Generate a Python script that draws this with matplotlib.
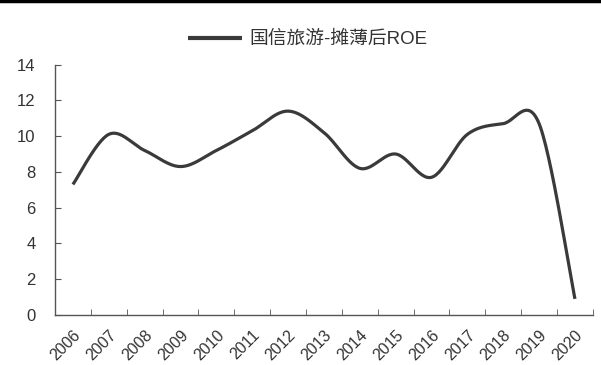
import numpy as np
import matplotlib
matplotlib.use('Agg')
import matplotlib.pyplot as plt
from matplotlib.lines import Line2D

plt.rcParams['font.family'] = ['Liberation Sans', 'Noto Sans CJK SC', 'DejaVu Sans']

years = ['2006', '2007', '2008', '2009', '2010', '2011', '2012', '2013',
         '2014', '2015', '2016', '2017', '2018', '2019', '2020']
roe = [7.3, 10.1, 9.2, 8.3, 9.2, 10.3, 11.4, 10.2, 8.2, 9.0, 7.7, 10.1, 10.7, 10.7, 0.9]
label = '国信旅游-摊薄后ROE'


def smooth(x, y, n=30):
    # catmull-rom like excel smoothed line
    x = np.asarray(x, float)
    y = np.asarray(y, float)
    px = np.concatenate([[x[0]], x, [x[-1]]])
    py = np.concatenate([[y[0]], y, [y[-1]]])
    xs, ys = [], []
    t = np.linspace(0, 1, n)
    for i in range(1, len(px) - 2):
        p0, p1, p2, p3 = [np.array([px[j], py[j]]) for j in (i - 1, i, i + 1, i + 2)]
        c1 = p1 + (p2 - p0) / 6.0
        c2 = p2 - (p3 - p1) / 6.0
        b = ((1 - t) ** 3)[:, None] * p1 + (3 * (1 - t) ** 2 * t)[:, None] * c1 \
            + (3 * (1 - t) * t ** 2)[:, None] * c2 + (t ** 3)[:, None] * p2
        xs.append(b[:, 0])
        ys.append(b[:, 1])
    return np.concatenate(xs), np.concatenate(ys)


fig = plt.figure(figsize=(6.01, 3.65), dpi=100)
ax = fig.add_axes([0.0915, 0.137, 0.895, 0.686])

xi = np.arange(len(years))
sx, sy = smooth(xi, roe)
ax.plot(sx, sy, color='#3a3a3a', lw=2.3, solid_capstyle='butt', label=label)

ax.set_xlim(-0.5, len(years) - 0.5)
ax.set_ylim(0, 14)
ax.set_yticks(np.arange(0, 15, 2))
ax.set_xticks(xi)
ax.set_xticklabels(years, rotation=45, ha='right', rotation_mode='anchor')
ax.set_xticks(np.arange(0.5, len(years), 1), minor=True)
ax.tick_params(axis='x', which='major', length=0, pad=9, labelsize=11.5, labelcolor='#333333')
ax.tick_params(axis='x', which='minor', direction='in', length=4, color='#555555')
ax.tick_params(axis='y', direction='in', length=4, color='#555555', labelsize=12,
               labelcolor='#333333', pad=14)
for s in ('top', 'right'):
    ax.spines[s].set_visible(False)
for s in ('left', 'bottom'):
    ax.spines[s].set_color('#555555')
    ax.spines[s].set_linewidth(1.0)

leg = ax.legend(loc='center', bbox_to_anchor=(0.47, 1.1), frameon=False,
                fontsize=13.5, handlelength=2.9, handletextpad=0.4)
for t in leg.get_texts():
    t.set_color('#333333')
leg.get_lines()[0].set_linewidth(3)

fig.add_artist(Line2D([0, 1], [0.996, 0.996], transform=fig.transFigure,
                      color='black', lw=2.5))

fig.savefig('out.png', dpi=100)
